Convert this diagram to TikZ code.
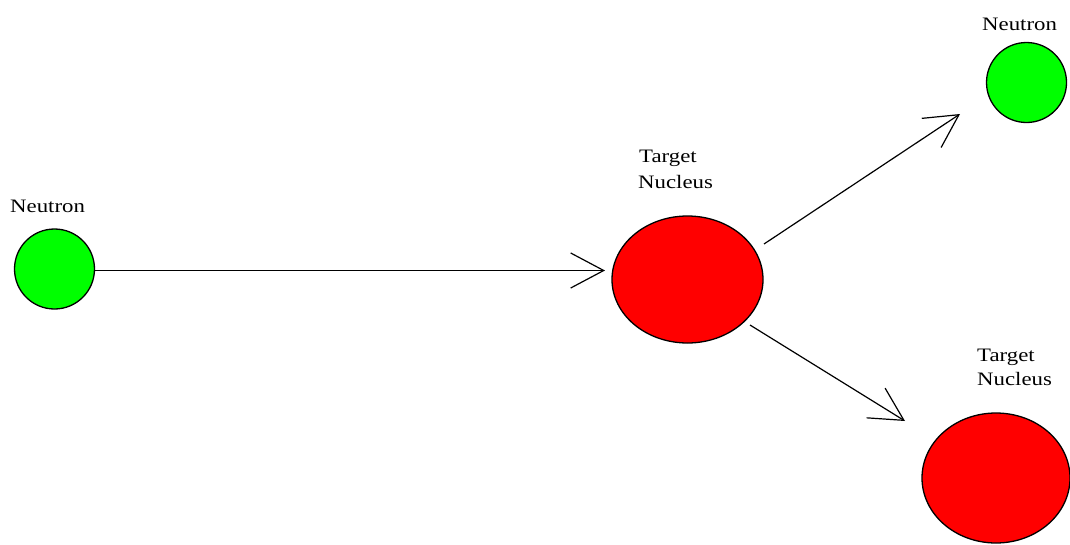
\documentclass[tikz,border=0pt]{standalone}
\usepackage{fontspec}
\newfontfamily\labfont[FakeStretch=1.2]{Liberation Serif}
\usetikzlibrary{arrows.meta,shapes.geometric}
\begin{document}
\begin{tikzpicture}[x=1pt,y=-1pt,
  neutron/.style={circle,draw=black,line width=1.3pt,fill={rgb,255:red,0;green,255;blue,0},minimum size=80pt,inner sep=0pt},
  nucleus/.style={ellipse,draw=black,line width=1.3pt,fill={rgb,255:red,255;green,0;blue,0},inner sep=0pt},
  lab/.style={font=\labfont\fontsize{19}{26}\selectfont,inner sep=0pt,anchor=base west,text=black},
  ray/.style={line width=1.2pt,-{Straight Barb[length=33pt,width=35pt,line width=1.2pt]}}]
\useasboundingbox (0,0) rectangle (1070,544);
\fill[white] (0,0) rectangle (1070,544);
% shapes
\node[neutron] (nL) at (54.5,269) {};
\node[nucleus,minimum width=151pt,minimum height=127pt] (tN) at (687.5,279.5) {};
\node[neutron] (nR) at (1026.5,82.5) {};
\node[nucleus,minimum width=148pt,minimum height=130pt] (tB) at (996,478) {};
% labels
\node[lab] (labL) at (10,212) {Neutron};
\node[lab] (labR) at (982,30) {Neutron};
\node[lab] (labT1) at (639,162) {Target};
\node[lab] (labT2) at (638,188) {Nucleus};
\node[lab] (labB1) at (977,361) {Target};
\node[lab] (labB2) at (977,385) {Nucleus};
% arrow end points
\coordinate (a1s) at (94.5,270.5);
\coordinate (a1e) at (605,270.5);
\coordinate (a2s) at (764,244);
\coordinate (a2e) at (960,114);
\coordinate (a3s) at (750,325);
\coordinate (a3e) at (905,421);
\draw[ray] (a1s) -- (a1e);
\draw[ray] (a2s) -- (a2e);
\draw[ray] (a3s) -- (a3e);
\end{tikzpicture}
\end{document}
